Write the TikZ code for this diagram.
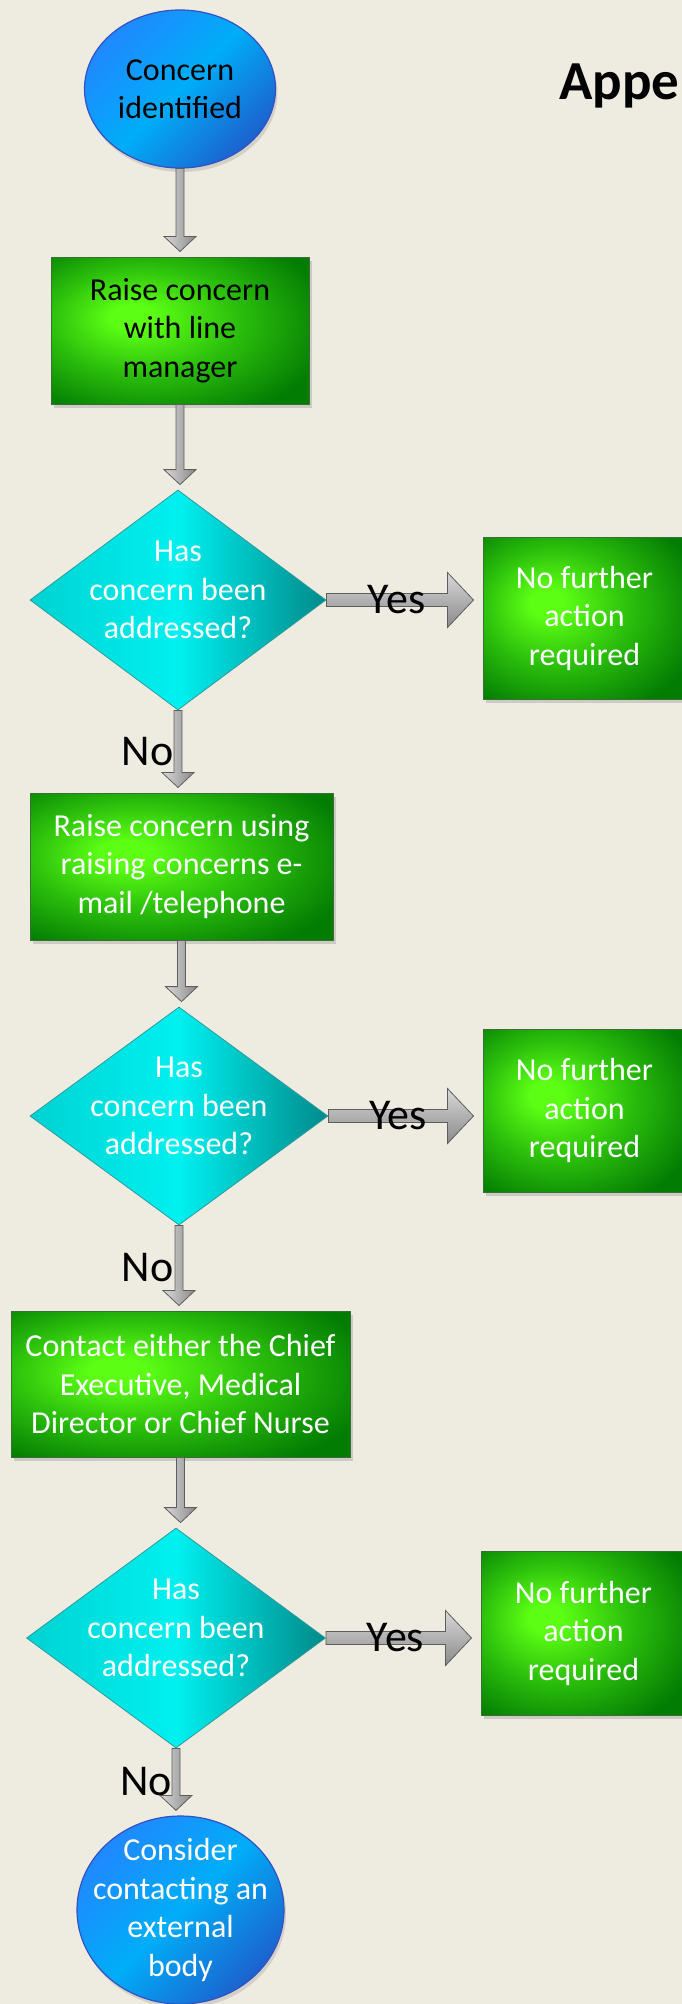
\documentclass[tikz,border=0pt]{standalone}
\usepackage{fontspec}
\setmainfont{Carlito}
\usetikzlibrary{shapes.geometric,shadows,calc}
\definecolor{bg}{HTML}{EEECE1}
\definecolor{gbright}{HTML}{5CFF14}
\definecolor{gmid}{HTML}{2CC00C}
\definecolor{gdark}{HTML}{037C03}
\definecolor{gborder}{HTML}{3A6E34}
\definecolor{cyl}{HTML}{00D2D2}
\definecolor{cym}{HTML}{00F0F0}
\definecolor{cyr}{HTML}{008A8A}
\definecolor{cyborder}{HTML}{2A9C9C}
\definecolor{bl1}{HTML}{2088FF}
\definecolor{bl2}{HTML}{00ADF8}
\definecolor{bl3}{HTML}{1C62CE}
\definecolor{blborder}{HTML}{3352C2}
\definecolor{arrl}{HTML}{D8D8D8}
\definecolor{arrd}{HTML}{8A8A8A}
\definecolor{arrborder}{HTML}{5E5E5E}
\pgfdeclareradialshading{greenglow}{\pgfpoint{-10bp}{5bp}}{color(0bp)=(gbright); color(4bp)=(gbright); color(18bp)=(gmid); color(34bp)=(gdark); color(60bp)=(gdark)}
\tikzset{
  txt/.style={font=\fontsize{32}{38.5}\selectfont, align=center},
  box/.style={rectangle, draw=gborder, line width=1pt, shading=greenglow, txt, inner sep=0pt,
    drop shadow={shadow xshift=3pt, shadow yshift=-4pt, opacity=0.3}},
  dia/.style={diamond, draw=cyborder, line width=0.8pt, left color=cyl, right color=cyr, middle color=cym, inner sep=0pt},
  oval/.style={ellipse, draw=blborder, line width=1.2pt, top color=bl1, bottom color=bl3, middle color=bl2, shading angle=45, inner sep=0pt,
    drop shadow={shadow xshift=2pt, shadow yshift=-4pt, opacity=0.25}},
  yn/.style={font=\fontsize{44}{52}\selectfont, inner sep=0pt},
  blockarrow/.style={draw=arrborder, line width=0.8pt, line join=miter},
}
\newcommand\downblk[2]{%
  \path[blockarrow, left color=arrl, right color=arrd] let \p1=(#1), \p2=(#2) in
  (\x1-4pt,\y1) -- (\x1-4pt,\y2+20pt) -- (\x1-16pt,\y2+20pt) -- (\x1,\y2+5pt) --
  (\x1+16pt,\y2+20pt) -- (\x1+4pt,\y2+20pt) -- (\x1+4pt,\y1) -- cycle;}
\newcommand\yesblk[2]{%
  \path[blockarrow, top color=arrl, bottom color=arrd] let \p1=(#1), \p2=(#2) in
  (\x1,\y1+6.5pt) -- (\x2-35pt,\y1+6.5pt) -- (\x2-35pt,\y1+27.5pt) -- (\x2-9pt,\y1) --
  (\x2-35pt,\y1-27.5pt) -- (\x2-35pt,\y1-6.5pt) -- (\x1,\y1-6.5pt) -- cycle;}
\begin{document}
\begin{tikzpicture}[x=1pt,y=-1pt]
\useasboundingbox (0,0) rectangle (682,2004);
\fill[bg] (0,0) rectangle (682,2004);
\clip (0,0) rectangle (682,2004);

\node[font=\fontsize{55}{64}\selectfont\bfseries, anchor=base west, inner sep=0pt] (title) at (559,100) {Appe};

\node[oval, minimum width=191pt, minimum height=158pt,
  label={[txt, text=black]center:{Concern\\identified}}] (s) at (180,89) {};
\node[box, minimum width=258pt, minimum height=147pt, text=black] (r1) at (180,330.5) {Raise concern\\with line\\manager};
\node[dia, minimum width=296pt, minimum height=220pt,
  label={[txt, text=white, yshift=10pt]center:{Has\\concern been\\addressed?}}] (d1) at (178,600) {};
\node[box, minimum width=203pt, minimum height=162pt, text=white] (n1) at (584.5,618) {No further\\action\\required};
\node[box, minimum width=303pt, minimum height=147pt, text=white] (r2) at (181.5,866.5) {Raise concern using\\raising concerns e-\\mail /telephone};
\node[dia, minimum width=298pt, minimum height=218pt,
  label={[txt, text=white, yshift=10pt]center:{Has\\concern been\\addressed?}}] (d2) at (179,1116) {};
\node[box, minimum width=203pt, minimum height=163pt, text=white] (n2) at (584.5,1110.5) {No further\\action\\required};
\node[box, minimum width=339pt, minimum height=146pt, text=white] (r3) at (180.5,1384) {Contact either the Chief\\Executive, Medical\\Director or Chief Nurse};
\node[dia, minimum width=299pt, minimum height=220pt,
  label={[txt, text=white, yshift=10pt]center:{Has\\concern been\\addressed?}}] (d3) at (176,1638) {};
\node[box, minimum width=205pt, minimum height=164pt, text=white] (n3) at (583.5,1633) {No further\\action\\required};
\node[oval, minimum width=207pt, minimum height=188pt,
  label={[txt, text=white]center:{Consider\\contacting an\\external\\body}}] (e) at (180.5,1910) {};

\downblk{s.south}{r1.north}
\downblk{r1.south}{d1.north}
\downblk{d1.south}{r2.north}
\downblk{r2.south}{d2.north}
\downblk{d2.south}{r3.north}
\downblk{r3.south}{d3.north}
\downblk{d3.south}{e.north}

\yesblk{d1.east}{n1.west}
\yesblk{d2.east}{n2.west}
\yesblk{d3.east}{n3.west}

\node[yn] (y1) at ($(d1.east)!0.45!(d1.east -| n1.west)$) {Yes};
\node[yn] (y2) at ($(d2.east)!0.45!(d2.east -| n2.west)$) {Yes};
\node[yn] (y3) at ($(d3.east)!0.45!(d3.east -| n3.west)$) {Yes};

\node[yn, anchor=east] (no1) at ($(d1.south)!0.5!(r2.north) + (-6,0)$) {No};
\node[yn, anchor=east] (no2) at ($(d2.south)!0.5!(r3.north) + (-6,0)$) {No};
\node[yn, anchor=east] (no3) at ($(d3.south)!0.5!(e.north) + (-6,0)$) {No};
\end{tikzpicture}
\end{document}
